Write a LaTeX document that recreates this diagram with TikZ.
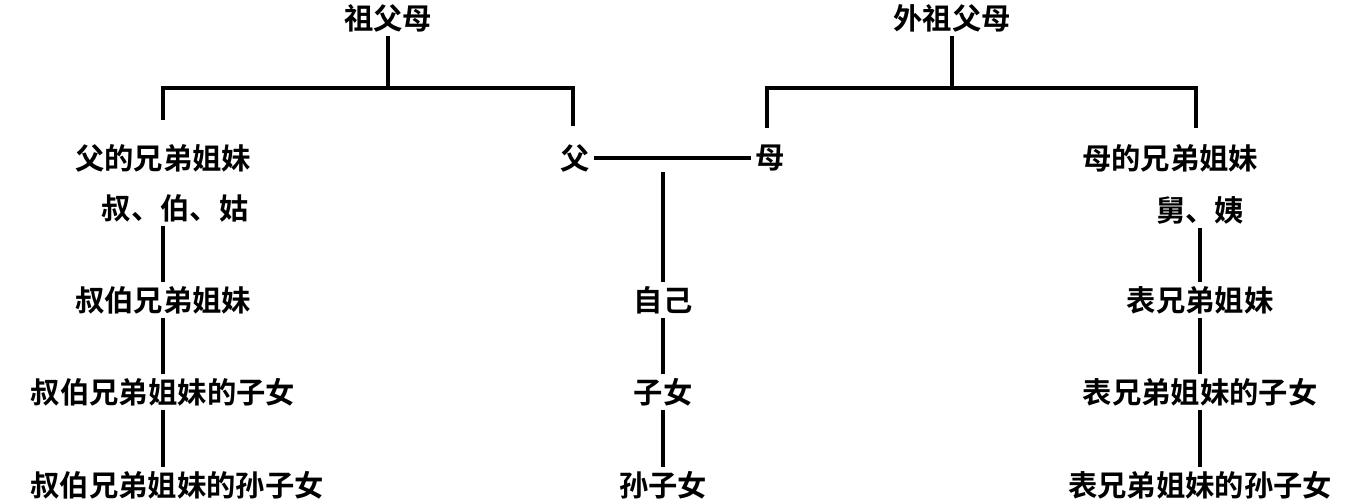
\documentclass[tikz,border=0pt]{standalone}
\usepackage{fontspec}
\setmainfont{Noto Sans CJK SC}[BoldFont={Noto Sans CJK SC Bold}]
\begin{document}
\begin{tikzpicture}[x=0.75pt,y=-0.75pt,
  t/.style={font=\fontsize{22}{22}\selectfont\bfseries,inner sep=3pt},
  ln/.style={line width=2.6pt}]
\useasboundingbox (0,0) rectangle (1352,500);
\node[t] (gp) at (388,18) {祖父母};
\node[t] (mgp) at (952,18) {外祖父母};
\node[t] (fs) at (163,158) {父的兄弟姐妹};
\node[t] (fs2) at (175,208) {叔、伯、姑};
\node[t] (f) at (575,158) {父};
\node[t] (m) at (770,158) {母};
\node[t] (ms) at (1170,158) {母的兄弟姐妹};
\node[t] (ms2) at (1200,210) {舅、姨};
\node[t] (self) at (663,300) {自己};
\node[t] (ch) at (663,392) {子女};
\node[t] (gch) at (663,485) {孙子女};
\node[t] (l1) at (163,300) {叔伯兄弟姐妹};
\node[t] (l2) at (163,392) {叔伯兄弟姐妹的子女};
\node[t] (l3) at (177,485) {叔伯兄弟姐妹的孙子女};
\node[t] (r1) at (1200,300) {表兄弟姐妹};
\node[t] (r2) at (1200,392) {表兄弟姐妹的子女};
\node[t] (r3) at (1200,485) {表兄弟姐妹的孙子女};
\coordinate (gpb) at (388,88);
\coordinate (mgpb) at (952,88);
\draw[ln] (gp.south) -- (gpb);
\draw[ln] (163,120) -- (163,88) -- (573,88) -- (573,126);
\draw[ln] (mgp.south) -- (mgpb);
\draw[ln] (767,128) -- (767,88) -- (1196,88) -- (1196,128);
\draw[ln] (f.east) -- (m.west);
\draw[ln] (663,172) -- (self.north);
\draw[ln] (self.south) -- (ch.north);
\draw[ln] (ch.south) -- (gch.north);
\draw[ln] (fs2.south -| l1.north) -- (l1.north);
\draw[ln] (l1.south) -- (l2.north);
\draw[ln] (l2.south) -- (l2.south |- l3.north);
\draw[ln] (ms2.south) -- (r1.north);
\draw[ln] (r1.south) -- (r2.north);
\draw[ln] (r2.south) -- (r3.north);
\end{tikzpicture}
\end{document}
